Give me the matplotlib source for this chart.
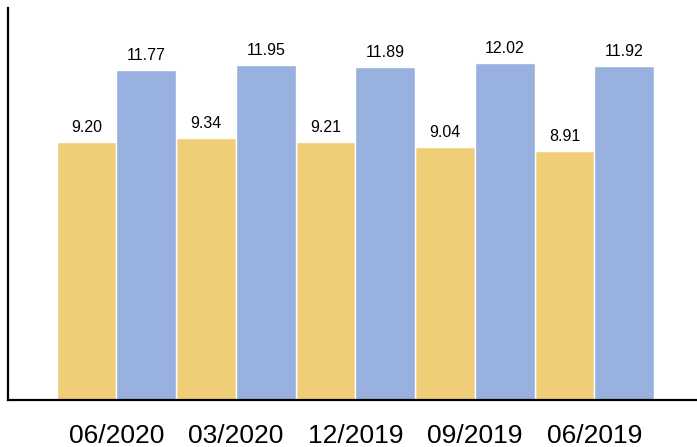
import numpy as np
import matplotlib.pyplot as plt

plt.rcParams['font.family'] = ['Liberation Sans', 'DejaVu Sans']

periods = ['06/2020', '03/2020', '12/2019', '09/2019', '06/2019']
series_a = [9.20, 9.34, 9.21, 9.04, 8.91]
series_b = [11.77, 11.95, 11.89, 12.02, 11.92]

yellow = '#F0CE78'
blue = '#99B1DE'

fig = plt.figure(figsize=(6.97, 4.47), dpi=100)
ax = fig.add_axes([8/697, 47/447, 689/697, 392/447])

x = np.arange(len(periods))
w = 0.5
b1 = ax.bar(x - w/2, series_a, w, color=yellow, edgecolor='white', linewidth=1)
b2 = ax.bar(x + w/2, series_b, w, color=blue, edgecolor='white', linewidth=1)

for bars in (b1, b2):
    for r in bars:
        ax.text(r.get_x() + r.get_width()/2, r.get_height() + 0.25,
                f'{r.get_height():.2f}', ha='center', va='bottom', fontsize=11.5)

ax.set_xlim(-0.908, 4.86)
ax.set_ylim(0, 14)
ax.set_xticks(x)
ax.set_xticklabels(periods, fontsize=19)
ax.tick_params(axis='x', length=0, pad=17)
ax.set_yticks([])

for s in ['top', 'right']:
    ax.spines[s].set_visible(False)
for s in ['left', 'bottom']:
    ax.spines[s].set_linewidth(1.6)
    ax.spines[s].set_color('black')

fig.savefig('out.png', dpi=100)
